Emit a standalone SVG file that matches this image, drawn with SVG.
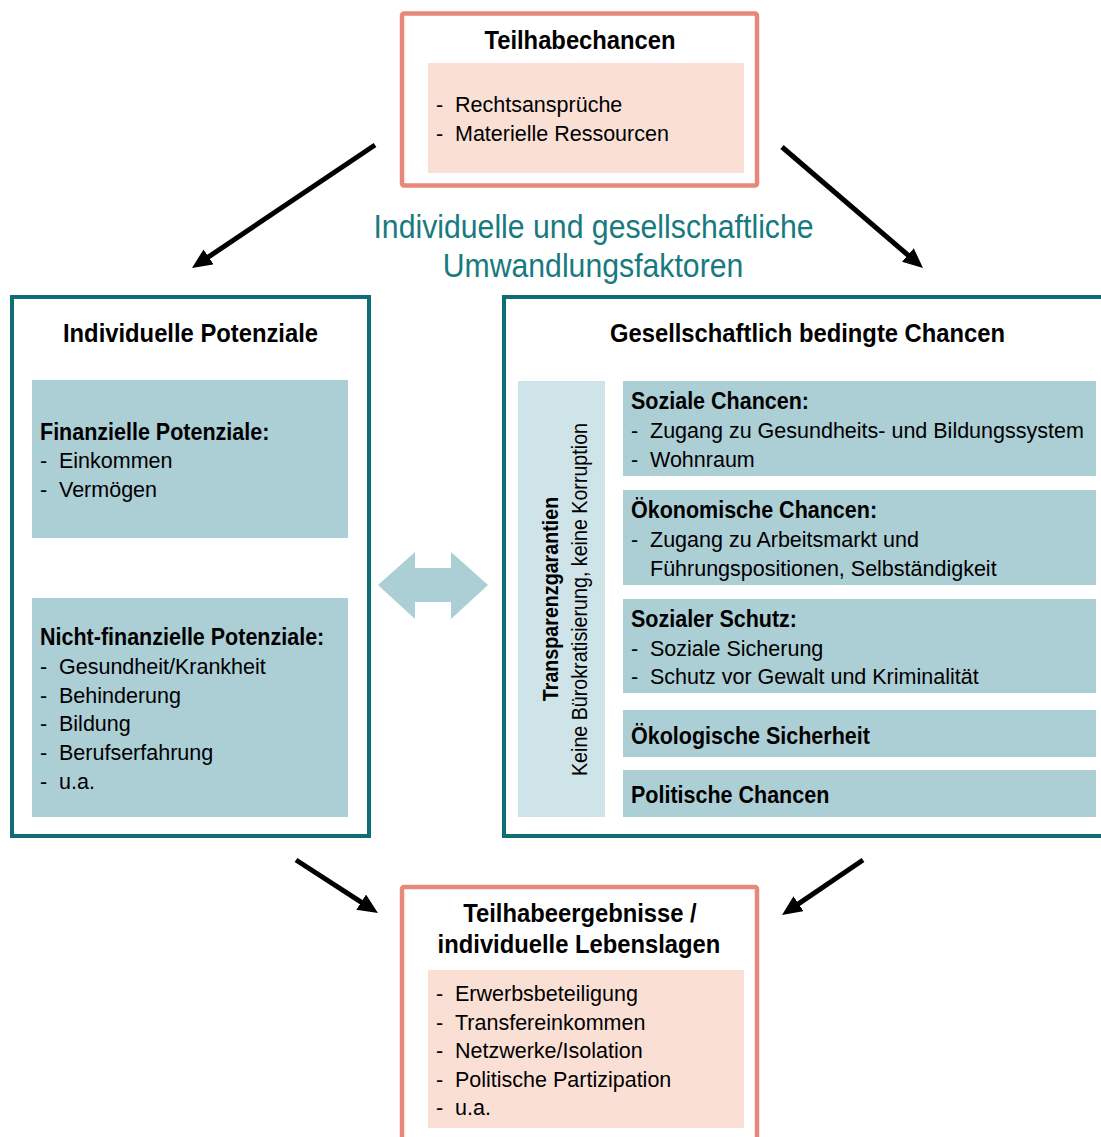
<svg xmlns="http://www.w3.org/2000/svg" width="1101" height="1137" viewBox="0 0 1101 1137">
  <style>
    text { font-family: "Liberation Sans", Arial, sans-serif; fill: #000; }
    .h1 { font-size: 26px; font-weight: bold; }
    .h2 { font-size: 23.5px; font-weight: bold; }
    .reg { font-size: 21.5px; }
    .vb { font-size: 21.5px; font-weight: bold; }
    .vr { font-size: 21.5px; }
    .teal { font-size: 32.5px; fill: #177A80; }
    .salmonBox { fill: #FFFFFF; stroke: #E8887A; stroke-width: 4.5; }
    .pinkFill { fill: #FADFD5; }
    .tealBox { fill: #FFFFFF; stroke: #0D6E75; stroke-width: 4; }
    .blueFill { fill: #ACCED5; }
    .stripFill { fill: #CFE4E8; }
    .arrow { stroke: #000; stroke-width: 5; fill: none; marker-end: url(#head); }
  </style>
  <defs>
    <marker id="head" markerUnits="userSpaceOnUse" markerWidth="20" markerHeight="18" refX="6" refY="9" orient="auto" viewBox="0 0 20 18">
      <path d="M0,0 L20,9 L0,18 z" fill="#000"/>
    </marker>
  </defs>
  <rect width="1101" height="1137" fill="#FFFFFF"/>

  <g id="node-teilhabechancen">
    <rect class="salmonBox" x="402" y="13.5" width="355" height="172" rx="2"/>
    <rect class="pinkFill" x="428" y="63" width="316" height="110"/>
    <text class="h1" text-anchor="middle" transform="translate(580,49) scale(0.915,1)">Teilhabechancen</text>
    <text class="reg" x="436" y="112">-</text>
    <text class="reg" x="455" y="112">Rechtsansprüche</text>
    <text class="reg" x="436" y="141">-</text>
    <text class="reg" x="455" y="141">Materielle Ressourcen</text>
  </g>

  <g id="label-umwandlungsfaktoren">
    <text class="teal" text-anchor="middle" transform="translate(593.5,238) scale(0.93,1)">Individuelle und gesellschaftliche</text>
    <text class="teal" text-anchor="middle" transform="translate(593,277) scale(0.93,1)">Umwandlungsfaktoren</text>
  </g>

  <g id="node-individuelle-potenziale">
    <rect class="tealBox" x="12" y="297" width="357" height="539"/>
    <text class="h1" text-anchor="middle" transform="translate(190.5,342) scale(0.915,1)">Individuelle Potenziale</text>
    <rect class="blueFill" x="32" y="380" width="316" height="158"/>
    <text class="h2" transform="translate(40,440) scale(0.915,1)">Finanzielle Potenziale:</text>
    <text class="reg" x="40" y="468">-</text>
    <text class="reg" x="59" y="468">Einkommen</text>
    <text class="reg" x="40" y="497">-</text>
    <text class="reg" x="59" y="497">Vermögen</text>
    <rect class="blueFill" x="32" y="598" width="316" height="219"/>
    <text class="h2" transform="translate(40,645) scale(0.915,1)">Nicht-finanzielle Potenziale:</text>
    <text class="reg" x="40" y="674">-</text>
    <text class="reg" x="59" y="674">Gesundheit/Krankheit</text>
    <text class="reg" x="40" y="703">-</text>
    <text class="reg" x="59" y="703">Behinderung</text>
    <text class="reg" x="40" y="731">-</text>
    <text class="reg" x="59" y="731">Bildung</text>
    <text class="reg" x="40" y="760">-</text>
    <text class="reg" x="59" y="760">Berufserfahrung</text>
    <text class="reg" x="40" y="789">-</text>
    <text class="reg" x="59" y="789">u.a.</text>
  </g>

  <g id="node-gesellschaftliche-chancen">
    <rect class="tealBox" x="504" y="297" width="620" height="539"/>
    <text class="h1" text-anchor="middle" transform="translate(807.5,342) scale(0.915,1)">Gesellschaftlich bedingte Chancen</text>
    <rect class="stripFill" x="518" y="381" width="87" height="436"/>
    <text class="vb" text-anchor="middle" transform="translate(558,599) rotate(-90) scale(0.915,1)">Transparenzgarantien</text>
    <text class="vr" text-anchor="middle" transform="translate(587,599.5) rotate(-90) scale(0.915,1)">Keine Bürokratisierung, keine Korruption</text>

    <rect class="blueFill" x="623" y="381" width="473" height="95"/>
    <text class="h2" transform="translate(631,409) scale(0.915,1)">Soziale Chancen:</text>
    <text class="reg" x="631" y="438">-</text>
    <text class="reg" x="650" y="438">Zugang zu Gesundheits- und Bildungssystem</text>
    <text class="reg" x="631" y="467">-</text>
    <text class="reg" x="650" y="467">Wohnraum</text>

    <rect class="blueFill" x="623" y="490" width="473" height="95"/>
    <text class="h2" transform="translate(631,518) scale(0.915,1)">Ökonomische Chancen:</text>
    <text class="reg" x="631" y="547">-</text>
    <text class="reg" x="650" y="547">Zugang zu Arbeitsmarkt und</text>
    <text class="reg" x="650" y="576">Führungspositionen, Selbständigkeit</text>

    <rect class="blueFill" x="623" y="599" width="473" height="94"/>
    <text class="h2" transform="translate(631,627) scale(0.915,1)">Sozialer Schutz:</text>
    <text class="reg" x="631" y="656">-</text>
    <text class="reg" x="650" y="656">Soziale Sicherung</text>
    <text class="reg" x="631" y="684">-</text>
    <text class="reg" x="650" y="684">Schutz vor Gewalt und Kriminalität</text>

    <rect class="blueFill" x="623" y="710" width="473" height="47"/>
    <text class="h2" transform="translate(631,744) scale(0.915,1)">Ökologische Sicherheit</text>

    <rect class="blueFill" x="623" y="770" width="473" height="47"/>
    <text class="h2" transform="translate(631,803) scale(0.915,1)">Politische Chancen</text>
  </g>

  <g id="node-teilhabeergebnisse">
    <rect class="salmonBox" x="402" y="887" width="355" height="270" rx="2"/>
    <text class="h1" text-anchor="middle" transform="translate(580,922) scale(0.915,1)">Teilhabeergebnisse /</text>
    <text class="h1" text-anchor="middle" transform="translate(579,953) scale(0.915,1)">individuelle Lebenslagen</text>
    <rect class="pinkFill" x="428" y="970" width="316" height="158"/>
    <text class="reg" x="436" y="1001">-</text>
    <text class="reg" x="455" y="1001">Erwerbsbeteiligung</text>
    <text class="reg" x="436" y="1030">-</text>
    <text class="reg" x="455" y="1030">Transfereinkommen</text>
    <text class="reg" x="436" y="1058">-</text>
    <text class="reg" x="455" y="1058">Netzwerke/Isolation</text>
    <text class="reg" x="436" y="1087">-</text>
    <text class="reg" x="455" y="1087">Politische Partizipation</text>
    <text class="reg" x="436" y="1115">-</text>
    <text class="reg" x="455" y="1115">u.a.</text>
  </g>

  <g id="connectors">
    <path class="arrow" d="M375,145 L203.6,260.2"/>
    <path class="arrow" d="M782,147 L912.4,258.9"/>
    <path class="arrow" d="M296,860 L366.2,905.4"/>
    <path class="arrow" d="M863,860 L793.6,907.1"/>
    <polygon points="378,585 415,552 415,568 451,568 451,552 488,585 451,619 451,602 415,602 415,619" fill="#ACCED5"/>
  </g>
</svg>
